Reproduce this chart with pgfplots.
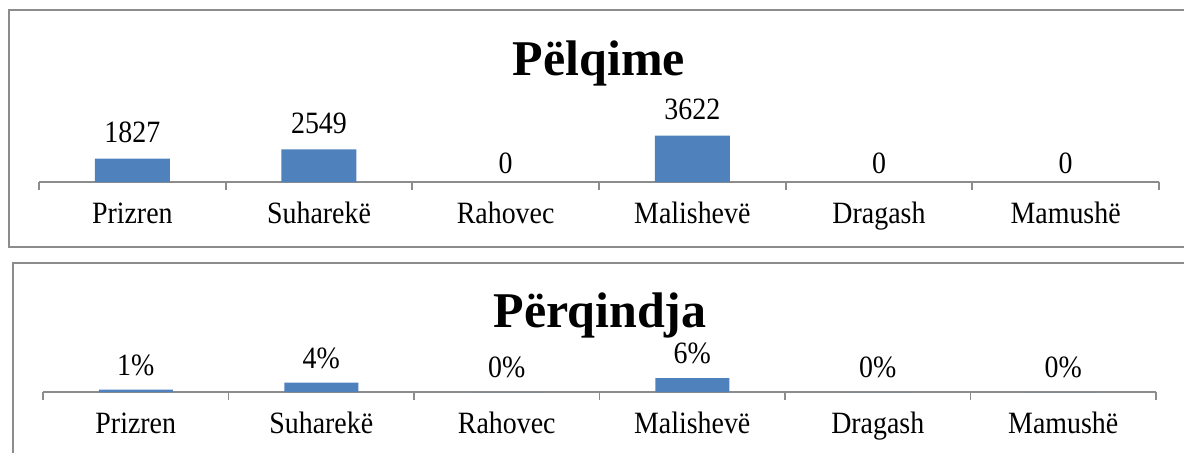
\documentclass[border=0pt]{standalone}
\usepackage{pgfplots}
\pgfplotsset{compat=1.18}
\usepackage{fontspec}
\setmainfont{Liberation Serif}
\newfontfamily\narrowserif[FakeStretch=0.9]{Liberation Serif}
\definecolor{barblue}{HTML}{4F81BD}
\definecolor{axgray}{HTML}{8C8C8C}
\newcommand{\lblfont}{\narrowserif\fontsize{15.5}{17}\selectfont}
\pgfplotsset{
  panel/.style={
    anchor=south west,
    xmin=-0.5, xmax=5.5, ymin=0,
    axis x line=bottom, axis y line=none,
    x axis line style={-, draw=axgray, line width=0.9pt},
    xtick={0,...,5},
    xticklabels={Prizren,Suharekë,Rahovec,Malishevë,Dragash,Mamushë},
    major tick length=0pt,
    minor xtick={-0.5,0.5,1.5,2.5,3.5,4.5,5.5},
    minor tick length=4pt,
    tick align=outside,
    minor tick style={draw=axgray, line width=0.9pt},
    xticklabel style={anchor=base, yshift=-20.5pt, font=\lblfont},
    clip=false,
  },
}
\begin{document}
\begin{tikzpicture}
\path[use as bounding box] (0,0) rectangle (592pt,226pt);
\clip (0,0) rectangle (592pt,226pt);
% frames
\draw[axgray, line width=0.9pt] (4.5pt,102.5pt) rectangle (640pt,221pt);
\draw[axgray, line width=0.9pt] (6.5pt,-30pt) rectangle (640pt,94.5pt);

\begin{axis}[panel, at={(19.5pt,135pt)}, x=93.33pt, y=0.00641pt, ymax=8500]
\addplot[ybar, bar width=37.5pt, fill=barblue, draw=none,
  nodes near coords, point meta=explicit symbolic,
  nodes near coords style={font=\lblfont, anchor=south, yshift=4.3pt}]
  coordinates {(0,1827)[1827] (1,2549)[2549] (3,3622)[3622]};
\addplot[draw=none, mark=none,
  nodes near coords, point meta=explicit symbolic,
  nodes near coords style={font=\lblfont, anchor=south, yshift=0.8pt}]
  coordinates {(2,0)[0] (4,0)[0] (5,0)[0]};
\end{axis}

\begin{axis}[panel, at={(21.5pt,30pt)}, x=92.75pt, y=1.1667pt, ymax=12]
\addplot[ybar, bar width=37pt, fill=barblue, draw=none,
  nodes near coords, point meta=explicit symbolic,
  nodes near coords style={font=\lblfont, anchor=south, yshift=3.3pt}]
  coordinates {(0,1)[1\%] (1,4)[4\%] (2,0)[0\%] (3,6)[6\%] (4,0)[0\%] (5,0)[0\%]};
\end{axis}

\node[anchor=base, font=\fontsize{25}{28}\selectfont\bfseries] at (299.5pt,188.5pt) {Pëlqime};
\node[anchor=base, font=\fontsize{25}{28}\selectfont\bfseries] at (300pt,62.5pt) {Përqindja};
\end{tikzpicture}
\end{document}
